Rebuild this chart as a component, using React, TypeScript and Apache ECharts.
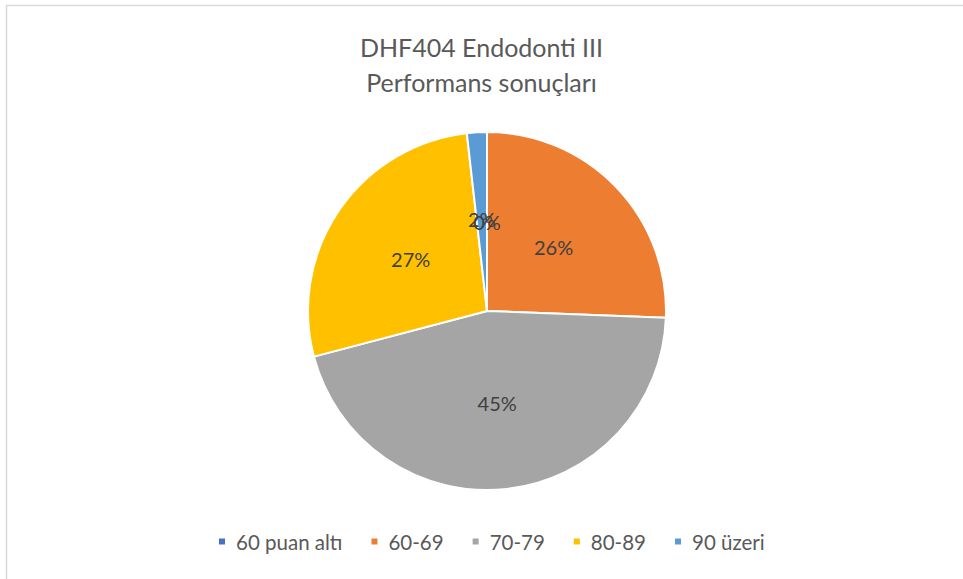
import React, { useEffect, useRef } from "react";
import * as echarts from "echarts";

const titleLines = ["DHF404 Endodonti III", "Performans sonuçları"];
const categories = ["60 puan altı", "60-69", "70-79", "80-89", "90 üzeri"];
const values = [0, 25.6, 45.3, 27.3, 1.8];
const colors = ["#4472C4", "#ED7D31", "#A5A5A5", "#FFC000", "#5B9BD5"];

export default function App() {
  const ref = useRef<HTMLDivElement>(null);
  useEffect(() => {
    document.body.style.margin = "0";
    const chart = echarts.init(ref.current!, null, { renderer: "svg" });
    const font = "Lato, 'Open Sans', sans-serif";
    const cx = 487;
    const cy = 311;
    const r = 179;
    const startAngle = 90;
    const total = values.reduce((a, b) => a + b, 0);

    // ECharts does not render labels for zero-value sectors; place them like an inside label
    const zeroLabels: any[] = [];
    let acc = 0;
    values.forEach((v) => {
      const a0 = startAngle - (acc / total) * 360;
      acc += v;
      if (v === 0) {
        const mid = (a0 * Math.PI) / 180;
        zeroLabels.push({
          type: "text",
          x: cx + (r / 2) * Math.cos(mid),
          y: cy - (r / 2) * Math.sin(mid),
          silent: true,
          style: {
            text: `${Math.round((v / total) * 100)}%`,
            fontFamily: font,
            fontSize: 20,
            fill: "#404040",
            align: "center",
            verticalAlign: "middle",
          },
          z: 10,
        });
      }
    });

    chart.setOption({
      animation: false,
      backgroundColor: "#ffffff",
      color: colors,
      title: {
        text: titleLines.join("\n"),
        left: "center",
        top: 24,
        textStyle: {
          fontFamily: font,
          fontSize: 25,
          fontWeight: "normal",
          color: "#595959",
          lineHeight: 35,
        },
      },
      graphic: [
        {
          type: "rect",
          shape: { x: 6.5, y: 5.5, width: 1000, height: 600 },
          style: { fill: "none", stroke: "#D9D9D9", lineWidth: 1.5 },
          silent: true,
        },
        ...zeroLabels,
      ],
      legend: {
        top: 526,
        left: 212,
        icon: "rect",
        itemWidth: 8,
        itemHeight: 8,
        itemGap: 27,
        textStyle: {
          fontFamily: font,
          fontSize: 20.5,
          color: "#595959",
          padding: [0, 0, 0, 5],
        },
        data: categories,
      },
      series: [
        {
          type: "pie",
          center: [cx, cy],
          radius: [0, r],
          startAngle,
          clockwise: true,
          percentPrecision: 0,
          stillShowZeroSum: true,
          avoidLabelOverlap: false,
          itemStyle: { borderColor: "#ffffff", borderWidth: 2 },
          label: {
            show: true,
            position: "inside",
            formatter: "{d}%",
            fontFamily: font,
            fontSize: 20,
            color: "#404040",
          },
          labelLine: { show: false },
          emphasis: { disabled: true },
          data: categories.map((name, i) => ({ name, value: values[i] })),
        },
      ],
    });
    return () => chart.dispose();
  }, []);
  return (
    <div
      ref={ref}
      style={{ position: "absolute", left: 0, top: 0, width: 963, height: 579 }}
    />
  );
}
